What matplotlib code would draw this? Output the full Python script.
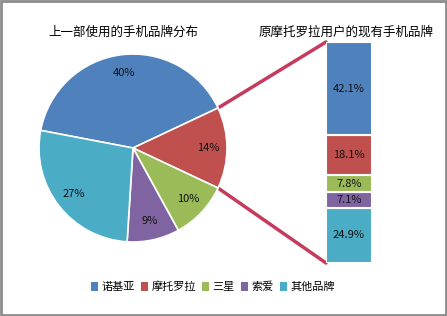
import matplotlib
matplotlib.use('Agg')
import matplotlib.pyplot as plt
from matplotlib.patches import ConnectionPatch, Rectangle, Patch
import numpy as np

plt.rcParams['font.family'] = ['Noto Sans CJK SC', 'DejaVu Sans']

brands = ["诺基亚", "摩托罗拉", "三星", "索爱", "其他品牌"]
colors = ["#4F81BD", "#C0504D", "#9BBB59", "#8064A2", "#4BACC6"]
pie_values = [40, 14, 10, 9, 27]
bar_values = [42.1, 18.1, 7.8, 7.1, 24.9]
title_pie = "上一部使用的手机品牌分布"
title_bar = "原摩托罗拉用户的现有手机品牌"
line_color = "#C63A5C"

W, H = 447, 316
fig = plt.figure(figsize=(W / 100, H / 100), dpi=100)

def px_axes(x0, y0, x1, y1):
    return fig.add_axes([x0 / W, 1 - y1 / H, (x1 - x0) / W, (y1 - y0) / H])

# pie: center (133,148), radius 94 px
cx, cy, r = 133, 148, 94
ax1 = px_axes(cx - r, cy - r, cx + r, cy + r)
moto_angle = pie_values[1] / 100 * 360 / 2
start = moto_angle + pie_values[0] / 100 * 360
wedges, texts, autotexts = ax1.pie(
    pie_values, colors=colors, startangle=start, counterclock=False,
    autopct=lambda p: f"{p:.0f}%", pctdistance=0.8, radius=1,
    wedgeprops=dict(edgecolor="white", linewidth=1.2),
    textprops=dict(fontsize=8, color="#111111"))
ax1.set_xlim(-1, 1)
ax1.set_ylim(-1, 1)
ax1.set_aspect('equal')

# stacked bar
ax2 = px_axes(326, 42, 372, 263)
bottom = 0
for val, col in zip(bar_values[::-1], colors[::-1]):
    ax2.bar(0, val, width=1, bottom=bottom, color=col, edgecolor="white", linewidth=1.5)
    ax2.text(0, bottom + val / 2, f"{val:.1f}%", ha="center", va="center",
             fontsize=8, color="#111111")
    bottom += val
ax2.set_xlim(-0.5, 0.5)
ax2.set_ylim(0, 100)
ax2.axis('off')

# connector lines
a = np.deg2rad(moto_angle)
for sign, ybar in [(1, 100), (-1, 0)]:
    con = ConnectionPatch(xyA=(np.cos(a), sign * np.sin(a)), coordsA=ax1.transData,
                          xyB=(-0.5, ybar), coordsB=ax2.transData,
                          color=line_color, linewidth=2.5, zorder=0)
    fig.add_artist(con)

fig.text(123 / W, 1 - 32 / H, title_pie, ha="center", va="center", fontsize=9)
fig.text(346 / W, 1 - 32 / H, title_bar, ha="center", va="center", fontsize=9)

handles = [Patch(facecolor=c, edgecolor="none") for c in colors]
fig.legend(handles, brands, loc="center", bbox_to_anchor=(213 / W, 1 - 287 / H),
           ncol=5, frameon=False, fontsize=8, handlelength=0.6, handleheight=0.8,
           handletextpad=0.3, columnspacing=0.6)

fig.add_artist(Rectangle((0.002, 0.003), 0.995, 0.993, transform=fig.transFigure,
                         fill=False, edgecolor="#8C8C8C", linewidth=2))

fig.savefig("out.png", dpi=100)
